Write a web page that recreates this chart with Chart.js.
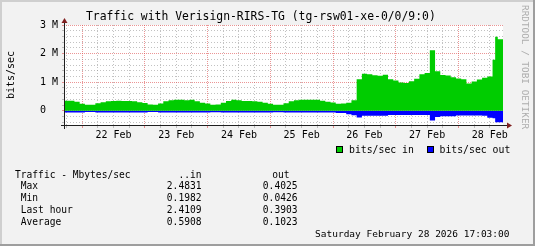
<!DOCTYPE html>
<html><head><meta charset="utf-8">
<script src="https://cdn.jsdelivr.net/npm/chart.js@4/dist/chart.umd.min.js"></script>
<style>
html,body{margin:0;padding:0;background:#F2F2F2;}
#wrap{position:relative;width:535px;height:246px;overflow:hidden;font-family:'DejaVu Sans Mono',monospace;color:#000;}
#wrap canvas{position:absolute;left:0;top:0;}
.t{position:absolute;white-space:pre;line-height:1;}
.box{position:absolute;width:5px;height:5px;border:1px solid #000;}
#wm{position:absolute;left:521px;top:5px;font-size:9.4px;line-height:1;color:#ADADAD;writing-mode:vertical-rl;white-space:pre;}
</style></head>
<body><div id="wrap"><canvas id="c" width="535" height="246"></canvas>
<div class="t" id="title" style="left:86px;top:11.4px;font-size:11.4px;"></div>
<div id="wm"></div>
<div id="legend"></div>
<div id="stats"></div>
</div>
<script>
// ---- data (Mbit/s), 2-hour samples, last hours at 1-hour resolution ----
const hours = [0,2,4,6,8,10,12,14,16,18,20,22,24,26,28,30,32,34,36,38,40,42,44,46,48,50,52,54,56,58,
  60,62,64,66,68,70,72,74,76,78,80,82,84,86,88,90,92,94,96,98,100,102,104,106,108,110,112,114,116,118,
  120,122,124,126,128,130,132,134,136,138,140,142,144,146,148,150,152,154,156,158,160,162,164,165,166,167];
const END_HOUR = 168;
const inMbits = [0.35,0.35,0.35,0.31,0.24,0.21,0.21,0.26,0.30,0.33,
  0.34,0.35,0.34,0.34,0.33,0.30,0.27,0.22,0.21,0.25,
  0.33,0.37,0.38,0.38,0.37,0.38,0.33,0.28,0.25,0.21,
  0.22,0.28,0.34,0.38,0.37,0.34,0.34,0.33,0.31,0.28,
  0.24,0.21,0.21,0.26,0.33,0.37,0.38,0.38,0.38,0.38,
  0.35,0.31,0.29,0.24,0.25,0.28,0.37,1.10,1.29,1.28,
  1.24,1.22,1.26,1.10,1.06,0.99,0.97,1.03,1.12,1.28,
  1.32,2.12,1.38,1.25,1.23,1.17,1.13,1.10,0.95,1.02,
  1.09,1.15,1.20,1.78,2.59,2.50];
const outMbits = [0.06,0.06,0.06,0.06,0.06,0.045,0.045,0.06,0.06,0.06,
  0.06,0.06,0.06,0.06,0.06,0.06,0.06,0.045,0.045,0.06,
  0.06,0.06,0.06,0.06,0.06,0.06,0.06,0.06,0.06,0.05,
  0.05,0.06,0.06,0.06,0.06,0.06,0.06,0.06,0.06,0.06,
  0.06,0.05,0.05,0.06,0.06,0.06,0.06,0.06,0.06,0.06,
  0.06,0.06,0.06,0.08,0.08,0.12,0.16,0.24,0.18,0.18,
  0.18,0.18,0.18,0.15,0.15,0.15,0.15,0.15,0.15,0.15,
  0.15,0.34,0.22,0.19,0.19,0.19,0.17,0.17,0.17,0.17,
  0.17,0.18,0.25,0.26,0.40,0.40];
const FIRST_MIDNIGHT = 6.95; // hours after graph start
const dayLabels = ['22 Feb','23 Feb','24 Feb','25 Feb','26 Feb','27 Feb','28 Feb'];
const yTickLabels = ['0  ','1 M','2 M','3 M'];
const titleText = 'Traffic with Verisign-RIRS-TG (tg-rsw01-xe-0/0/9:0)';
const watermark = 'RRDTOOL / TOBI OETIKER';
const statsHeader = ['Traffic - Mbytes/sec','..in','out'];
const statLabels = ['Max','Min','Last hour','Average'];
const statIn = ['2.4831','0.1982','2.4109','0.5908'];
const statOut = ['0.4025','0.0426','0.3903','0.1023'];
const stampText = 'Saturday February 28 2026 17:03:00';

// ---- build ----
const toPts = (arr, sign) => {
  const p = hours.map((h, i) => ({x: h, y: sign * arr[i]}));
  p.push({x: END_HOUR, y: sign * arr[arr.length - 1]});
  return p;
};
const gridHours = [];
for (let h = FIRST_MIDNIGHT % 6; h < END_HOUR; h += 6) gridHours.push(Math.round(h * 100) / 100);
const yGrid = [];
for (let k = -2; k <= 15; k++) yGrid.push(Math.round(k * 2) / 10);
const isMidnight = v => { const d = (v - FIRST_MIDNIGHT) / 24; return Math.abs(d - Math.round(d)) < 1e-3; };
const dayIndex = v => { const d = (v - FIRST_MIDNIGHT - 12) / 24; return Math.abs(d - Math.round(d)) < 1e-3 ? Math.round(d) : -1; };

const GRID = 'rgba(143,143,143,0.55)';
const MGRID = 'rgba(222,79,79,0.6)';

Chart.defaults.font.family = "'DejaVu Sans Mono', monospace";
Chart.defaults.color = '#000';

const frame = {
  id: 'frame',
  beforeDraw(chart) {
    const {ctx, chartArea: a, width: W, height: H} = chart;
    ctx.save();
    ctx.fillStyle = '#F2F2F2'; ctx.fillRect(0, 0, W, H);
    ctx.fillStyle = '#CFCFCF'; ctx.fillRect(0, 0, W, 2); ctx.fillRect(0, 0, 2, H);
    ctx.fillStyle = '#9E9E9E'; ctx.fillRect(0, H - 2, W, 2); ctx.fillRect(W - 2, 0, 2, H);
    ctx.fillStyle = '#FFFFFF'; ctx.fillRect(a.left, a.top, a.right - a.left, a.bottom - a.top);
    ctx.restore();
  },
  afterDatasetsDraw(chart) {
    const {ctx, chartArea: a} = chart;
    ctx.save();
    ctx.strokeStyle = '#1F1F1F'; ctx.lineWidth = 1;
    ctx.beginPath();
    ctx.moveTo(a.left - 3, a.bottom + 0.5); ctx.lineTo(a.right + 4, a.bottom + 0.5);
    ctx.moveTo(a.left + 0.5, a.bottom + 4); ctx.lineTo(a.left + 0.5, a.top - 2);
    ctx.stroke();
    ctx.fillStyle = '#801F1F';
    ctx.beginPath();
    ctx.moveTo(a.right + 4, a.bottom - 2.5); ctx.lineTo(a.right + 9, a.bottom + 0.5); ctx.lineTo(a.right + 4, a.bottom + 3.5); ctx.closePath();
    ctx.fill();
    ctx.beginPath();
    ctx.moveTo(a.left - 2.5, a.top - 2); ctx.lineTo(a.left + 0.5, a.top - 7); ctx.lineTo(a.left + 3.5, a.top - 2); ctx.closePath();
    ctx.fill();
    ctx.restore();
  }
};

const xMajor = c => !!(c && c.tick && isMidnight(c.tick.value));
const yMajor = c => !!(c && c.tick && Number.isInteger(c.tick.value));

const chart = new Chart(document.getElementById('c'), {
  type: 'line',
  data: {datasets: [
    {label: 'bits/sec in', data: toPts(inMbits, 1), stepped: 'after', fill: 'origin',
     backgroundColor: '#00CC00', borderColor: 'rgba(0,0,0,0)', borderWidth: 0, pointRadius: 0},
    {label: 'bits/sec out', data: toPts(outMbits, -1), stepped: 'after', fill: 'origin',
     backgroundColor: '#0000FF', borderColor: 'rgba(0,0,0,0)', borderWidth: 0, pointRadius: 0}
  ]},
  options: {
    responsive: false, animation: false, devicePixelRatio: 1,
    layout: {padding: {left: 0, top: 25, right: 32, bottom: 0}},
    plugins: {legend: {display: false}, tooltip: {enabled: false}, title: {display: false}},
    events: [],
    scales: {
      x: {
        type: 'linear', min: 0, max: END_HOUR,
        afterFit(s) { s.height = 121; },
        afterBuildTicks(s) { s.ticks = gridHours.map(v => ({value: v})); },
        ticks: {autoSkip: false, maxRotation: 0, minRotation: 0, padding: 1, font: {size: 10}, color: '#000',
          callback(v) { const d = dayIndex(v); return d >= 0 && d < dayLabels.length ? dayLabels[d] : ''; }},
        grid: {color: c => xMajor(c) ? MGRID : GRID, lineWidth: 1, drawTicks: true, tickLength: 3,
          tickColor: c => xMajor(c) ? MGRID : GRID},
        border: {display: false, dash: c => xMajor(c) ? [1, 1] : [1, 2]}
      },
      y: {
        min: -0.5, max: 3,
        afterFit(s) { s.width = 64; },
        afterBuildTicks(s) { s.ticks = yGrid.map(v => ({value: v})); },
        ticks: {autoSkip: false, padding: 4, font: {size: 10}, color: '#000',
          callback(v) { return Number.isInteger(v) && yTickLabels[v] !== undefined ? yTickLabels[v] : ''; }},
        grid: {color: c => yMajor(c) ? MGRID : GRID, lineWidth: 1, drawTicks: true, tickLength: 2,
          tickColor: c => yMajor(c) ? MGRID : GRID},
        border: {display: false, dash: c => yMajor(c) ? [1, 1] : [1, 2]},
        title: {display: true, text: 'bits/sec', font: {size: 10}, color: '#000', padding: {top: 5, bottom: 0}}
      }
    }
  },
  plugins: [frame]
});

// ---- texts ----
document.getElementById('title').textContent = titleText;
document.getElementById('wm').textContent = watermark;

const legendPos = [{box: 336, text: 349}, {box: 426.5, text: 439.5}];
const legend = document.getElementById('legend');
chart.data.datasets.forEach((ds, i) => {
  const b = document.createElement('div');
  b.className = 'box';
  b.style.left = legendPos[i].box + 'px'; b.style.top = '146px'; b.style.background = ds.backgroundColor;
  legend.appendChild(b);
  const t = document.createElement('div');
  t.className = 't';
  t.style.left = legendPos[i].text + 'px'; t.style.top = '144.7px'; t.style.fontSize = '9.8px';
  t.textContent = ds.label;
  legend.appendChild(t);
});

const stats = document.getElementById('stats');
function addText(txt, top, left, right, size) {
  const d = document.createElement('div');
  d.className = 't';
  d.style.top = top + 'px'; d.style.fontSize = size + 'px';
  if (left !== null) d.style.left = left + 'px'; else d.style.right = (535 - right) + 'px';
  d.textContent = txt;
  stats.appendChild(d);
}
const FS = 9.6;
const rowTop = b => b - 0.846 * FS;
addText(statsHeader[0], rowTop(177.7), 15, null, FS);
addText(statsHeader[1], rowTop(177.7), null, 201.5, FS);
addText(statsHeader[2], rowTop(177.7), null, 289.5, FS);
statLabels.forEach((lab, i) => {
  const base = 189.5 + i * 12;
  addText(' ' + lab, rowTop(base), 15, null, FS);
  addText(statIn[i], rowTop(base), null, 201.5, FS);
  addText(statOut[i], rowTop(base), null, 297.5, FS);
});
addText(stampText, rowTop(237.3), null, 509.5, 9.5);
</script>
</body></html>
